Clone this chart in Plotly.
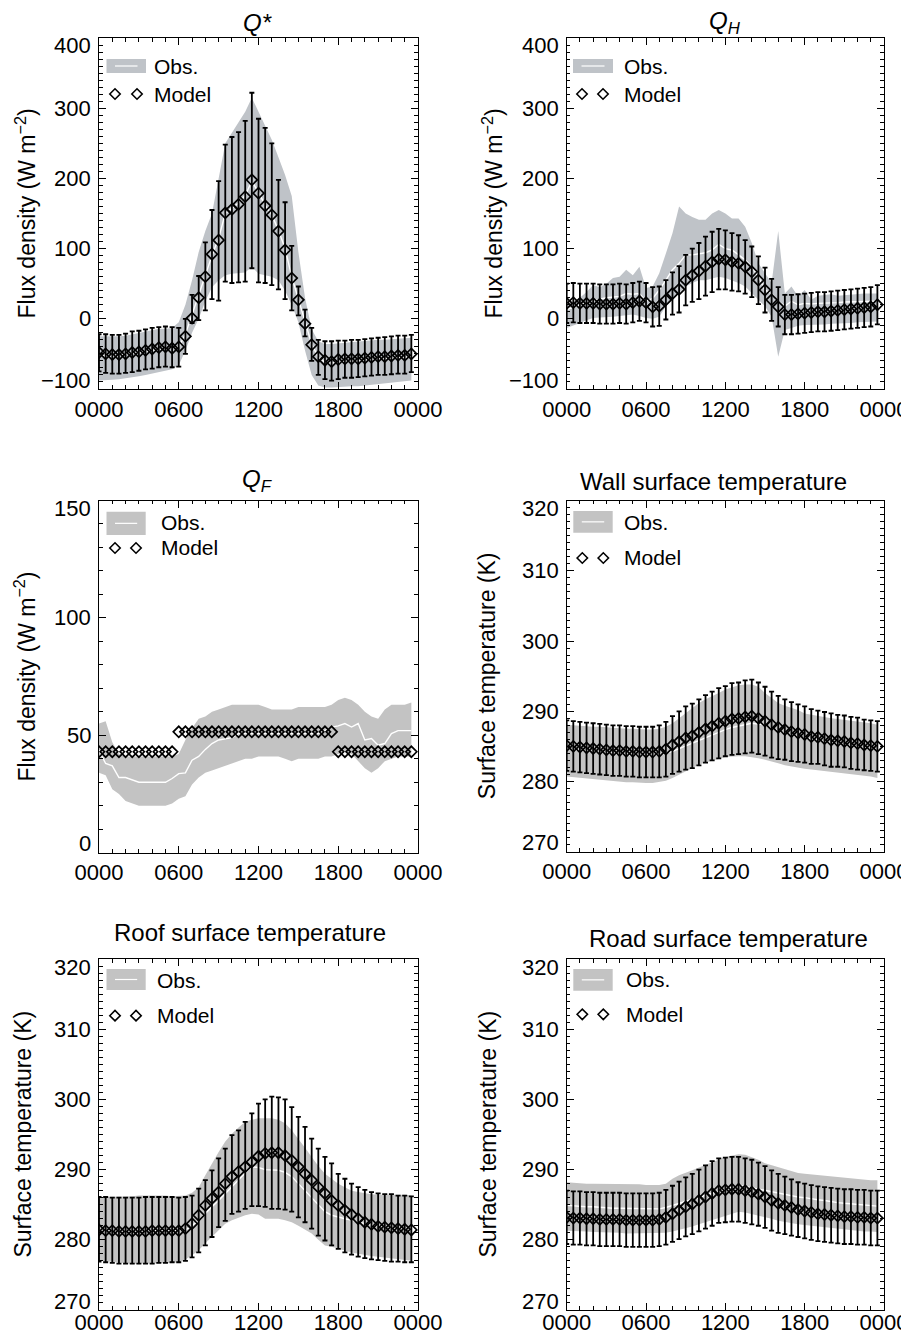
import plotly.graph_objects as go

# The page body adds an 8 px margin; the figure starts 8 px in from the top-left corner.
PAGE_W, PAGE_H = 909, 1339
OFF = 8
W, H = PAGE_W - OFF, PAGE_H - OFF

HOURS = [0.0, 0.5, 1.0, 1.5, 2.0, 2.5, 3.0, 3.5, 4.0, 4.5, 5.0, 5.5,
         6.0, 6.5, 7.0, 7.5, 8.0, 8.5, 9.0, 9.5, 10.0, 10.5, 11.0, 11.5,
         12.0, 12.5, 13.0, 13.5, 14.0, 14.5, 15.0, 15.5, 16.0, 16.5, 17.0, 17.5,
         18.0, 18.5, 19.0, 19.5, 20.0, 20.5, 21.0, 21.5, 22.0, 22.5, 23.0, 23.5]
TICK_VALS = [0, 6, 12, 18, 24]
TICK_TEXT = ["0000", "0600", "1200", "1800", "0000"]

# ---------------- Q* ----------------
qs_obs_lo = [-88, -88, -87, -86, -85, -84, -82, -80, -78, -76, -74, -72,
             -66, -45, -20, 0, 25, 45, 55, 62, 64, 65, 66, 74,
             64, 62, 60, 55, 40, 20, -5, -45, -80, -95, -98, -98, -97, -97,
             -96, -96, -95, -94, -93, -92, -91, -90, -89, -88]
qs_obs_hi = [-25, -25, -26, -25, -24, -22, -20, -18, -16, -14, -14, -13,
             -5, 20, 55, 95, 125, 150, 200, 250, 265, 280, 295, 315,
             295, 275, 255, 230, 205, 175, 95, 30, -15, -32, -36, -36,
             -35, -35, -34, -33, -32, -31, -30, -30, -29, -28, -28, -27]
qs_obs_mean = [-52, -53, -53, -52, -51, -50, -49, -47, -45, -43, -42, -42,
               -40, -22, 5, 33, 62, 90, 115, 150, 158, 165, 176, 196,
               180, 162, 148, 126, 100, 60, 28, -5, -36, -55, -62, -63,
               -62, -61, -60, -60, -59, -58, -57, -57, -56, -55, -55, -54]
qs_model = [-48, -50, -51, -51, -50, -48, -47, -45, -43, -41, -40, -42,
            -40, -25, 1, 30, 60, 92, 112, 151, 156, 163, 174, 198,
            179, 161, 148, 125, 98, 58, 27, -7, -37, -54, -59, -61,
            -58, -57, -57, -57, -56, -55, -54, -54, -53, -52, -52, -50]
qs_model_top = [-22, -22, -23, -23, -21, -18, -17, -15, -13, -12, -11, -12,
                -13, 0, 34, 61, 109, 155, 196, 248, 259, 266, 282, 322,
                285, 272, 250, 198, 166, 104, 46, 13, -13, -30, -32, -32,
                -31, -31, -30, -30, -29, -28, -27, -26, -25, -24, -24, -23]
qs_model_bot = [-75, -77, -78, -78, -77, -76, -74, -72, -71, -69, -68, -69,
                -68, -50, -6, -2, 12, 28, 26, 53, 51, 52, 53, 72,
                52, 51, 48, 42, 28, 12, 5, -25, -60, -80, -86, -88,
                -86, -84, -84, -83, -82, -81, -80, -80, -79, -78, -78, -76]

# ---------------- QH ----------------
qh_obs_hi = [20, 25, 30, 38, 48, 45, 50, 58, 60, 70, 62, 74,
             44, 46, 65, 93, 122, 160, 150, 145, 141, 141, 150, 155,
             150, 143, 143, 131, 108, 79, 65, 51, 125, 36, 46, 32,
             41, 27, 33, 34, 35, 33, 34, 35, 36, 36, 36, 36]
qh_obs_lo = [-13, -10, -6, -2, 1, 2, 2, 3, 4, 5, 6, 4,
             1, 0, 3, 18, 27, 36, 46, 51, 55, 55, 58, 60,
             58, 55, 51, 46, 36, 27, 18, 3, -54, -16, -13, -10,
             -9, -9, -8, -8, -7, -7, -6, -6, -5, -5, -4, -4]
qh_obs_mean = [13, 17, 20, 23, 26, 28, 30, 31, 32, 36, 35, 36,
               25, 29, 41, 55, 70, 79, 91, 91, 93, 94, 98, 106,
               100, 98, 91, 84, 74, 60, 41, 36, 25, 18, 25, 20,
               22, 21, 22, 22, 23, 23, 24, 24, 25, 25, 25, 25]
qh_model = [22, 23, 22, 22, 22, 21, 21, 21, 22, 21, 23, 25,
            23, 17, 18, 27, 36, 42, 55, 62, 68, 75, 81, 85,
            84, 81, 79, 74, 67, 55, 41, 27, 17, 6, 6, 7,
            8, 9, 10, 10, 11, 12, 13, 14, 15, 16, 17, 20]
qh_model_sd = [28, 28, 28, 28, 28, 28, 28, 28, 28, 28, 28, 28,
               28, 28, 28, 28, 30, 33, 36, 38, 40, 42, 43, 43,
               42, 41, 40, 38, 36, 34, 32, 30, 28, 28, 28, 28,
               28, 28, 28, 28, 28, 28, 28, 28, 28, 28, 28, 28]

# ---------------- QF ----------------
qf_obs_hi = [55, 56, 47, 42, 41, 41, 41, 41, 41, 41, 41, 41,
             42, 48, 53, 57, 58, 60, 61, 62, 63, 63, 63, 63,
             63, 62, 61, 61, 61, 61, 62, 62, 62, 62, 62, 63,
             65, 66, 65, 63, 60, 58, 57, 61, 63, 63, 63, 64]
qf_obs_lo = [34, 33, 27, 25, 22, 21, 20, 20, 20, 20, 20, 21,
             23, 24, 29, 32, 34, 35, 36, 37, 38, 39, 40, 40,
             41, 41, 41, 41, 40, 39, 40, 40, 40, 40, 41, 41,
             42, 43, 42, 39, 36, 34, 36, 39, 40, 41, 41, 41]
qf_obs_mean = [43.6, 38, 37, 32, 32, 31, 30, 30, 30, 30, 30, 31.6,
               33.7, 34, 39.4, 41, 44, 46.5, 48, 48.5, 49, 50.7, 50.7, 50.7,
               50.7, 50.7, 50.7, 50.7, 50.7, 50.7, 50.7, 50.7, 50.7, 50.7, 52, 53.5,
               54, 55, 53.5, 55, 48, 48.6, 45.8, 46.5, 50.7, 52, 52, 52]
qf_model = [43, 43, 43, 43, 43, 43, 43, 43, 43, 43, 43, 43,
            51.5, 51.5, 51.5, 51.5, 51.5, 51.5, 51.5, 51.5, 51.5, 51.5, 51.5, 51.5,
            51.5, 51.5, 51.5, 51.5, 51.5, 51.5, 51.5, 51.5, 51.5, 51.5, 51.5, 51.5,
            43, 43, 43, 43, 43, 43, 43, 43, 43, 43, 43, 43]

# ---------------- Wall ----------------
wall_obs_hi = [288.1, 288.0, 288.0, 287.9, 287.8, 287.8, 287.7, 287.6, 287.6, 287.5, 287.5, 287.4,
               287.4, 287.4, 287.5, 287.8, 288.3, 289.0, 289.7, 290.5, 291.2, 291.7, 292.1, 292.6,
               293.1, 293.4, 293.7, 293.8, 293.8, 293.5, 292.6, 291.9, 291.2, 290.8, 290.5, 290.2,
               289.7, 289.5, 289.3, 289.1, 289.0, 288.9, 288.8, 288.7, 288.6, 288.4, 288.3, 288.1]
wall_obs_lo = [280.7, 280.6, 280.5, 280.4, 280.3, 280.2, 280.1, 280.0, 280.0, 279.9, 279.9, 279.8,
               279.8, 279.8, 279.9, 280.1, 280.5, 281.0, 281.4, 281.9, 282.4, 282.7, 282.9, 283.2,
               283.5, 283.6, 283.6, 283.6, 283.5, 283.3, 283.1, 282.9, 282.6, 282.3, 282.1, 282.0,
               281.8, 281.7, 281.6, 281.5, 281.4, 281.3, 281.2, 281.1, 281.0, 280.8, 280.7, 280.5]
wall_obs_mean = [284.6, 284.5, 284.4, 284.3, 284.2, 284.1, 284.0, 283.9, 283.9, 283.8, 283.8, 283.7,
                 283.7, 283.7, 283.8, 284.0, 284.3, 284.7, 285.1, 285.5, 285.9, 286.3, 286.7, 287.1,
                 287.4, 287.7, 287.9, 288.1, 288.3, 288.2, 288.0, 287.6, 287.2, 286.9, 286.6, 286.4,
                 286.2, 286.0, 285.8, 285.6, 285.5, 285.3, 285.2, 285.0, 284.9, 284.8, 284.7, 284.6]
wall_model = [285.1, 285.0, 284.9, 284.8, 284.7, 284.6, 284.5, 284.4, 284.4, 284.3, 284.3, 284.2,
              284.2, 284.2, 284.3, 284.6, 285.2, 285.7, 286.2, 286.5, 287.0, 287.5, 287.9, 288.3,
              288.6, 288.9, 289.0, 289.2, 289.3, 289.0, 288.6, 288.1, 287.7, 287.4, 287.1, 286.9,
              286.7, 286.4, 286.3, 286.1, 285.9, 285.8, 285.7, 285.5, 285.4, 285.2, 285.1, 285.0]
wall_model_sd = [3.6, 3.6, 3.6, 3.6, 3.6, 3.6, 3.6, 3.6, 3.6, 3.6, 3.6, 3.6,
                 3.6, 3.6, 3.7, 3.9, 4.1, 4.3, 4.5, 4.6, 4.7, 4.8, 4.9, 5.0,
                 5.0, 5.1, 5.1, 5.2, 5.2, 5.1, 4.9, 4.7, 4.5, 4.3, 4.2, 4.1,
                 4.0, 3.9, 3.8, 3.8, 3.8, 3.7, 3.7, 3.7, 3.7, 3.6, 3.6, 3.6]

# ---------------- Roof ----------------
roof_obs_hi = [286.1, 286.1, 286.2, 286.2, 286.2, 286.2, 286.3, 286.3, 286.4, 286.4, 286.3, 286.2,
               286.2, 286.3, 286.7, 287.5, 289.2, 290.9, 292.5, 294.0, 295.1, 296.0, 296.8, 297.1,
               297.3, 297.3, 297.3, 297.1, 296.6, 295.6, 294.4, 293.1, 291.8, 290.5, 289.4, 288.7,
               288.0, 287.5, 287.0, 286.8, 286.6, 286.5, 286.4, 286.4, 286.5, 286.5, 286.4, 286.3]
roof_obs_lo = [277.0, 276.9, 276.8, 276.7, 276.7, 276.6, 276.6, 276.6, 276.6, 276.6, 276.7, 276.7,
               276.8, 277.2, 277.8, 278.5, 279.5, 280.4, 281.4, 282.3, 282.8, 283.2, 283.5, 283.7,
               283.6, 283.0, 283.0, 283.0, 282.8, 282.5, 282.0, 281.5, 280.9, 280.0, 279.2, 279.0,
               278.7, 278.5, 278.2, 278.0, 277.8, 277.7, 277.6, 277.5, 277.4, 277.3, 277.2, 277.0]
roof_obs_mean = [281.3, 281.3, 281.3, 281.2, 281.2, 281.2, 281.2, 281.2, 281.2, 281.3, 281.3, 281.3,
                 281.3, 281.4, 282.0, 282.8, 283.8, 284.7, 285.6, 286.6, 287.5, 288.5, 289.5, 290.4,
                 290.3, 290.0, 290.0, 289.9, 289.6, 289.0, 288.0, 287.0, 285.9, 285.0, 284.0, 283.5,
                 283.2, 283.0, 282.8, 282.5, 282.3, 282.1, 281.9, 281.8, 281.7, 281.7, 281.6, 281.6]
roof_model = [281.4, 281.3, 281.3, 281.2, 281.2, 281.2, 281.2, 281.2, 281.3, 281.3, 281.3, 281.3,
              281.3, 281.6, 282.3, 283.5, 284.9, 285.9, 286.8, 288.0, 289.0, 289.7, 290.4, 291.1,
              291.9, 292.3, 292.4, 292.4, 292.0, 291.3, 290.4, 289.4, 288.5, 287.5, 286.6, 285.6,
              284.9, 284.2, 283.6, 283.0, 282.5, 282.2, 281.9, 281.8, 281.7, 281.6, 281.5, 281.4]
roof_model_top = [286.1, 286.1, 286.0, 286.0, 286.0, 286.0, 286.0, 286.1, 286.1, 286.1, 286.1, 286.1,
                  286.0, 286.1, 286.3, 287.3, 288.5, 289.9, 291.6, 293.0, 294.9, 295.6, 296.8, 298.0,
                  299.4, 300.0, 300.4, 300.3, 300.0, 298.9, 297.5, 296.1, 294.4, 293.0, 291.8, 290.9,
                  289.4, 288.7, 288.0, 287.5, 287.1, 286.8, 286.6, 286.5, 286.5, 286.3, 286.3, 286.2]
roof_model_bot = [276.9, 276.8, 276.7, 276.6, 276.6, 276.6, 276.6, 276.6, 276.6, 276.7, 276.7, 276.8,
                  276.8, 277.0, 277.5, 278.2, 279.2, 280.4, 281.8, 282.7, 283.7, 284.0, 284.4, 284.8,
                  284.8, 284.7, 284.4, 284.4, 284.3, 284.0, 283.2, 282.5, 281.6, 280.6, 279.9, 279.2,
                  278.7, 278.2, 277.9, 277.6, 277.4, 277.2, 277.1, 277.0, 276.9, 276.9, 276.8, 276.8]

# ---------------- Road ----------------
road_obs_hi = [288.2, 288.1, 288.1, 288.0, 288.0, 288.0, 288.0, 288.0, 288.0, 287.9, 287.9, 287.9,
               287.8, 287.8, 287.8, 288.0, 288.7, 289.2, 289.5, 289.9, 290.3, 290.7, 291.1, 291.5,
               291.8, 292.0, 292.2, 292.1, 291.8, 291.4, 290.9, 290.6, 290.3, 290.0, 289.7, 289.5,
               289.4, 289.3, 289.2, 289.1, 289.0, 288.9, 288.8, 288.8, 288.7, 288.6, 288.5, 288.5]
road_obs_lo = [281.3, 281.3, 281.2, 281.2, 281.1, 281.1, 281.0, 281.0, 281.0, 280.9, 280.9, 280.9,
               280.9, 280.9, 280.9, 281.0, 281.2, 281.4, 281.6, 281.9, 282.2, 282.5, 282.8, 283.2,
               283.5, 283.8, 284.0, 283.9, 283.7, 283.5, 283.2, 283.0, 282.7, 282.5, 282.3, 282.2,
               282.1, 282.0, 281.9, 281.8, 281.6, 281.5, 281.4, 281.4, 281.3, 281.2, 281.2, 281.1]
road_obs_mean = [284.9, 284.8, 284.8, 284.7, 284.7, 284.6, 284.6, 284.5, 284.5, 284.5, 284.4, 284.4,
                 284.4, 284.4, 284.4, 284.6, 284.9, 285.2, 285.4, 285.7, 286.0, 286.3, 286.6, 286.9,
                 287.2, 287.5, 287.8, 287.6, 287.4, 287.2, 287.0, 286.8, 286.6, 286.4, 286.3, 286.1,
                 286.0, 285.8, 285.7, 285.6, 285.4, 285.3, 285.2, 285.1, 285.0, 284.9, 284.9, 284.8]
road_model = [283.2, 283.1, 283.1, 283.0, 283.0, 282.9, 282.9, 282.9, 282.9, 282.8, 282.8, 282.8,
              282.8, 282.8, 282.9, 283.2, 283.7, 284.2, 284.7, 285.1, 285.6, 286.1, 286.6, 287.0,
              287.1, 287.2, 287.2, 287.0, 286.8, 286.5, 286.1, 285.6, 285.2, 284.9, 284.6, 284.3,
              284.1, 283.9, 283.7, 283.6, 283.5, 283.4, 283.3, 283.3, 283.2, 283.2, 283.1, 283.1]
road_model_sd = [3.8, 3.8, 3.8, 3.8, 3.8, 3.8, 3.8, 3.8, 3.8, 3.8, 3.8, 3.8,
                 3.8, 3.8, 3.8, 3.9, 4.0, 4.1, 4.2, 4.3, 4.4, 4.5, 4.6, 4.6,
                 4.6, 4.6, 4.6, 4.6, 4.6, 4.5, 4.4, 4.3, 4.2, 4.1, 4.0, 3.9,
                 3.9, 3.9, 3.9, 3.9, 3.9, 3.9, 3.9, 3.9, 3.9, 3.9, 3.9, 3.9]

FONT = "Liberation Sans, Arial, Helvetica, sans-serif"
BAND_BLUE = "#bfc3c8"
BAND_GREY = "#c3c3c3"

# panel pixel boxes in page pixels: (left, right, top, bottom)
panels = [
    dict(box=(99, 418, 38, 389), yr=(-100, 400), dt=100, minor=10, xstand=0,
         lo=qs_obs_lo, hi=qs_obs_hi, mean=qs_obs_mean, model=qs_model,
         err=([t - m for t, m in zip(qs_model_top, qs_model)],
              [m - b for m, b in zip(qs_model, qs_model_bot)]),
         band=BAND_BLUE, title="<i>Q*</i>", tpos=(258, 22),
         ytitle="Flux density (W m<sup>−2</sup>)", ytx=25,
         leg=dict(rect=(106.5, 146, 59, 73), text_x=152, oy=66, my=94, d1=115, d2=137)),
    dict(box=(566.7, 884, 38, 389), yr=(-100, 400), dt=100, minor=10, xstand=0,
         lo=qh_obs_lo, hi=qh_obs_hi, mean=qh_obs_mean, model=qh_model,
         err=(qh_model_sd, qh_model_sd),
         band=BAND_BLUE, title="<i>Q<sub>H</sub></i>", tpos=(725, 22),
         ytitle="Flux density (W m<sup>−2</sup>)", ytx=492,
         leg=dict(rect=(573, 613, 59, 73), text_x=622, oy=66, my=94, d1=582, d2=603)),
    dict(box=(99, 418, 500.5, 852.7), yr=(0, 150), dt=50, minor=10, xstand=0,
         lo=qf_obs_lo, hi=qf_obs_hi, mean=qf_obs_mean, model=qf_model,
         err=None,
         band=BAND_GREY, title="<i>Q<sub>F</sub></i>", tpos=(258, 481),
         ytitle="Flux density (W m<sup>−2</sup>)", ytx=25,
         leg=dict(rect=(106.5, 145.7, 511.7, 535), text_x=159, oy=522, my=548, d1=115, d2=136)),
    dict(box=(566.7, 884, 500.7, 851.7), yr=(270, 320), dt=10, minor=1, xstand=0,
         lo=wall_obs_lo, hi=wall_obs_hi, mean=wall_obs_mean, model=wall_model,
         err=(wall_model_sd, wall_model_sd),
         band=BAND_GREY, title="Wall surface temperature", tpos=(713, 482),
         ytitle="Surface temperature (K)", ytx=487,
         leg=dict(rect=(573.3, 612.7, 511, 532.7), text_x=622, oy=522, my=558, d1=582.3, d2=603.3)),
    dict(box=(99, 418, 959, 1310), yr=(270, 320), dt=10, minor=1, xstand=-8,
         lo=roof_obs_lo, hi=roof_obs_hi, mean=roof_obs_mean, model=roof_model,
         err=([t - m for t, m in zip(roof_model_top, roof_model)],
              [m - b for m, b in zip(roof_model, roof_model_bot)]),
         band=BAND_GREY, title="Roof surface temperature", tpos=(250, 933),
         ytitle="Surface temperature (K)", ytx=22,
         leg=dict(rect=(106.5, 145.7, 969, 990), text_x=155, oy=980, my=1015.7, d1=115, d2=136)),
    dict(box=(566.7, 884, 959, 1310), yr=(270, 320), dt=10, minor=1, xstand=-8,
         lo=road_obs_lo, hi=road_obs_hi, mean=road_obs_mean, model=road_model,
         err=(road_model_sd, road_model_sd),
         band=BAND_GREY, title="Road surface temperature", tpos=(728, 938),
         ytitle="Surface temperature (K)", ytx=487,
         leg=dict(rect=(573.3, 612.7, 969, 990.7), text_x=624, oy=979, my=1014.3, d1=582.3, d2=603.3)),
]


def px(x):
    return (x - OFF) / W


def py(y):
    return 1 - (y - OFF) / H


fig = go.Figure()
layout = dict(width=W, height=H, margin=dict(l=0, r=0, t=0, b=0, pad=0, autoexpand=False),
              autosize=False,
              paper_bgcolor="white", plot_bgcolor="white", showlegend=False,
              font=dict(family=FONT, color="black", size=22))
annotations = []
shapes = []

for i, p in enumerate(panels, start=1):
    xa = "x" if i == 1 else f"x{i}"
    ya = "y" if i == 1 else f"y{i}"
    l, r, t, b = p["box"]
    common = dict(showline=True, linecolor="black", linewidth=1.3, mirror="allticks",
                  ticks="inside", tickcolor="black", tickwidth=1.1, showgrid=False,
                  zeroline=False, automargin=False,
                  tickfont=dict(family=FONT, size=22, color="black"))
    layout["xaxis" if i == 1 else f"xaxis{i}"] = dict(
        domain=[px(l), px(r)], anchor=ya, range=[0, 24], tickvals=TICK_VALS,
        ticktext=TICK_TEXT, ticklen=7, ticklabelstandoff=p["xstand"], ticklabeloverflow="allow",
        minor=dict(ticks="inside", dtick=1, ticklen=3.5, tickcolor="black", tickwidth=1.1),
        **common)
    layout["yaxis" if i == 1 else f"yaxis{i}"] = dict(
        domain=[py(b), py(t)], anchor=xa, range=list(p["yr"]), dtick=p["dt"], tick0=0,
        ticklen=7, showticklabels=False,
        minor=dict(ticks="inside", dtick=p["minor"], ticklen=3.5, tickcolor="black", tickwidth=1.1),
        **common)

    # y tick labels (end labels kept inside the axis span, as in the original)
    y0, y1 = p["yr"]
    yticks = list(range(y0, y1 + p["dt"], p["dt"]))
    for v in yticks:
        shift = 9 if v == y0 else (-8 if v == y1 else 0)
        annotations.append(dict(text=str(v).replace("-", "−"), x=0, y=v,
                                xref=f"{xa} domain", yref=ya, xanchor="right", yanchor="middle",
                                xshift=-6, yshift=shift, showarrow=False,
                                font=dict(family=FONT, size=22, color="black")))

    fig.add_trace(go.Scatter(x=HOURS, y=p["lo"], mode="lines", line=dict(width=0, color=p["band"]),
                             xaxis=xa, yaxis=ya, hoverinfo="skip"))
    fig.add_trace(go.Scatter(x=HOURS, y=p["hi"], mode="lines", fill="tonexty", fillcolor=p["band"],
                             line=dict(width=0, color=p["band"]), xaxis=xa, yaxis=ya, hoverinfo="skip"))
    fig.add_trace(go.Scatter(x=HOURS, y=p["mean"], mode="lines", line=dict(width=1.4, color="white"),
                             xaxis=xa, yaxis=ya))
    err = None
    if p["err"] is not None:
        err = dict(type="data", symmetric=False, array=p["err"][0], arrayminus=p["err"][1],
                   color="black", thickness=1.8, width=2.5)
    fig.add_trace(go.Scatter(x=HOURS, y=p["model"], mode="markers",
                             marker=dict(symbol="diamond-open", size=8.4, color="black",
                                         line=dict(width=1.7, color="black")),
                             error_y=err, xaxis=xa, yaxis=ya))

    # titles
    annotations.append(dict(text=p["title"], x=px(p["tpos"][0]), y=py(p["tpos"][1]),
                            xref="paper", yref="paper", xanchor="center", yanchor="middle",
                            showarrow=False, font=dict(family=FONT, size=24, color="black")))
    annotations.append(dict(text=p["ytitle"], x=px(p["ytx"]), y=py((t + b) / 2),
                            xref="paper", yref="paper", xanchor="center", yanchor="middle",
                            textangle=-90, showarrow=False,
                            font=dict(family=FONT, size=23, color="black")))
    # legend
    lg = p["leg"]
    rx0, rx1, ry0, ry1 = lg["rect"]
    shapes.append(dict(type="rect", xref="paper", yref="paper", x0=px(rx0), x1=px(rx1),
                       y0=py(ry1), y1=py(ry0), fillcolor=p["band"], line=dict(width=0)))
    shapes.append(dict(type="line", xref="paper", yref="paper", x0=px(rx0 + 8.5), x1=px(rx1 - 8.5),
                       y0=py((ry0 + ry1) / 2), y1=py((ry0 + ry1) / 2),
                       line=dict(color="white", width=1.2)))
    for dx in (lg["d1"], lg["d2"]):
        s = 5.2
        cx, cy = dx, lg["my"]
        path = (f"M {px(cx - s)} {py(cy)} L {px(cx)} {py(cy - s)} L {px(cx + s)} {py(cy)} "
                f"L {px(cx)} {py(cy + s)} Z")
        shapes.append(dict(type="path", xref="paper", yref="paper", path=path,
                           line=dict(color="black", width=1.6)))
    annotations.append(dict(text="Obs.", x=px(lg["text_x"]), y=py(lg["oy"]), xref="paper", yref="paper",
                            xanchor="left", yanchor="middle", showarrow=False,
                            font=dict(family=FONT, size=21, color="black")))
    annotations.append(dict(text="Model", x=px(lg["text_x"]), y=py(lg["my"]), xref="paper", yref="paper",
                            xanchor="left", yanchor="middle", showarrow=False,
                            font=dict(family=FONT, size=21, color="black")))

layout["annotations"] = annotations
layout["shapes"] = shapes
fig.update_layout(**layout)
fig.write_html("out.html")
